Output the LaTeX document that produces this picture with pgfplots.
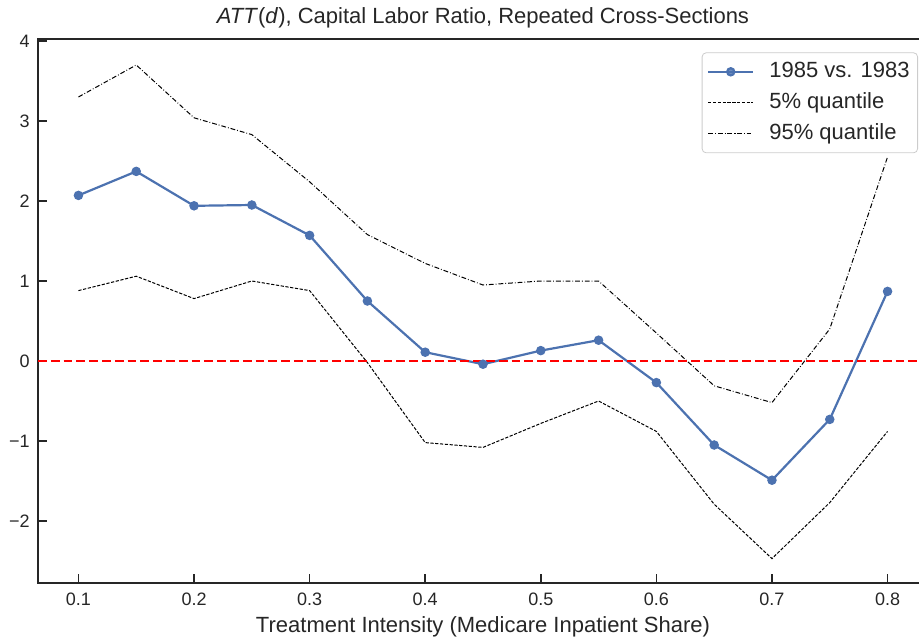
\documentclass[border=0pt]{standalone}
\usepackage{fontspec}
\setmainfont{Liberation Sans}
\usepackage{pgfplots}
\pgfplotsset{compat=1.18}
\usetikzlibrary{calc}
\definecolor{sbblue}{HTML}{4C72B0}
\definecolor{spine}{HTML}{262626}
\definecolor{legframe}{HTML}{CCCCCC}

\begin{document}
\begin{tikzpicture}
\begin{axis}[
  scale only axis, width=445pt, height=271.8pt,
  xmin=0.065, xmax=0.835, ymin=-2.775, ymax=4.02,
  xtick={0.1,0.2,0.3,0.4,0.5,0.6,0.7,0.8},
  xticklabels={0.1,0.2,0.3,0.4,0.5,0.6,0.7,0.8},
  ytick={-2,-1,0,1,2,3,4},
  yticklabels={−2,−1,0,1,2,3,4},
  xtick pos=left, ytick pos=left,
  tick align=inside, major tick length=4.5pt,
  axis line style={spine, line width=1pt},
  tick style={spine, line width=0.8pt},
  tick label style={font=\fontsize{9}{10.5}\selectfont, text=spine},
  xticklabel style={anchor=base, inner sep=0pt, yshift=-11pt},
  yticklabel style={anchor=east, inner sep=0pt, xshift=-4pt},
  title={\textit{ATT}(\textit{d}), Capital Labor Ratio, Repeated Cross-Sections},
  every axis title/.style={font=\fontsize{11}{13}\selectfont, text=spine, at={(0.5,1)}, anchor=base, yshift=8pt},
  xlabel={Treatment Intensity (Medicare Inpatient Share)},
  xlabel style={font=\fontsize{11}{13}\selectfont, text=spine, at={(0.5,0)}, anchor=base, yshift=-24.5pt},
  legend style={at={(1,1)}, anchor=north east, xshift=-5pt, yshift=-6.5pt,
    draw=legframe, rounded corners=2pt, fill=white, fill opacity=0.8, text opacity=1,
    font=\fontsize{11}{13}\selectfont, text=spine,
    inner xsep=2.5pt, inner ysep=2.85pt, row sep=2.2pt, column sep=6pt,
    nodes={inner xsep=1.5pt, inner ysep=1.5pt, text height=8pt, text depth=2.3pt}},
  legend cell align=left,
  legend image code/.code={\draw[mark repeat=2,mark phase=2,#1] plot coordinates {(0pt,0pt) (11.25pt,0pt) (22.5pt,0pt)};},
]
\addplot[sbblue, line width=1.1pt, mark=*, mark size=1.8pt, mark options={fill=sbblue, draw=sbblue}] coordinates {
(0.10,2.07) (0.15,2.37) (0.20,1.94) (0.25,1.95) (0.30,1.57) (0.35,0.75) (0.40,0.11) (0.45,-0.04)
(0.50,0.13) (0.55,0.26) (0.60,-0.27) (0.65,-1.05) (0.70,-1.49) (0.75,-0.73) (0.80,0.87)};
\addplot[black, line width=0.5pt, dash pattern=on 1.6pt off 0.8pt] coordinates {
(0.10,0.88) (0.15,1.06) (0.20,0.78) (0.25,1.00) (0.30,0.88) (0.35,-0.02) (0.40,-1.02) (0.45,-1.08)
(0.50,-0.78) (0.55,-0.50) (0.60,-0.88) (0.65,-1.79) (0.70,-2.47) (0.75,-1.77) (0.80,-0.88)};
\addplot[black, line width=0.5pt, dash pattern=on 2.4pt off 1pt on 0.4pt off 1pt] coordinates {
(0.10,3.30) (0.15,3.70) (0.20,3.04) (0.25,2.83) (0.30,2.24) (0.35,1.58) (0.40,1.22) (0.45,0.95)
(0.50,1.00) (0.55,1.00) (0.60,0.35) (0.65,-0.31) (0.70,-0.52) (0.75,0.40) (0.80,2.55)};
\addplot[red, line width=1.3pt, dash pattern=on 4.4pt off 2pt, forget plot] coordinates {(0.065,0) (0.835,0)};
\legend{1985 vs. 1983, 5\% quantile, 95\% quantile}
\end{axis}
\pgfresetboundingbox
\useasboundingbox ($(current axis.south west)+(-19pt,-27pt)$) rectangle ($(current axis.north east)+(-4.5pt,19.7pt)$);
\end{tikzpicture}
\end{document}
